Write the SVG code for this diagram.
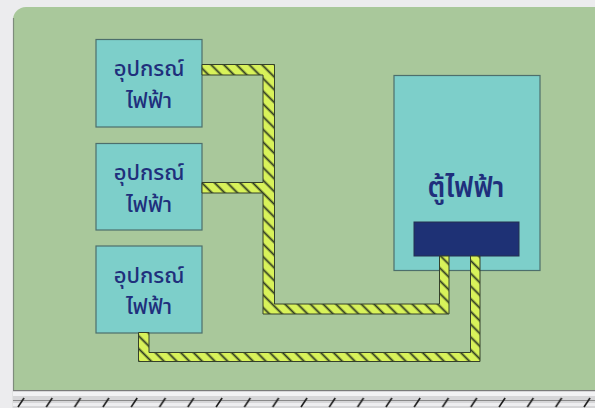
<svg xmlns="http://www.w3.org/2000/svg" width="595" height="408" viewBox="0 0 595 408">
  <style>
    .box { fill: #7dcfca; stroke: #4d6f6c; stroke-width: 1.2; }
    .lbl { font-family: "Noto Sans Thai", "Noto Sans", "DejaVu Sans", sans-serif; font-size: 22px; fill: #1f2f7c; text-anchor: middle; font-weight: 500; }
    .big { font-size: 27.5px; font-weight: 600; }
    .wire { fill: url(#hatch); stroke: #34402a; stroke-width: 1; stroke-linejoin: miter; }
  </style>
  <defs>
    <pattern id="hatch" patternUnits="userSpaceOnUse" width="9" height="9" patternTransform="rotate(-45)">
      <rect x="0" y="0" width="9" height="9" fill="#d8f25a"/>
      <line x1="4.5" y1="-1" x2="4.5" y2="10" stroke="#2e3a22" stroke-width="1.8"/>
    </pattern>
    <pattern id="ticks" patternUnits="userSpaceOnUse" x="17" y="390" width="28.3" height="18">
      <line x1="1" y1="17" x2="7" y2="8" stroke="#1a1a1a" stroke-width="1.6"/>
    </pattern>
  </defs>

  <rect x="0" y="0" width="595" height="408" fill="#ececee"/>

  <g id="panel">
    <rect x="13" y="7" width="600" height="400" rx="13" ry="13" fill="#a9c89b"/>
    <line x1="13.5" y1="18" x2="13.5" y2="408" stroke="#7e8c7c" stroke-width="1.2"/>
  </g>

  <g id="ground">
    <rect x="13" y="390" width="582" height="18" fill="#d6d6d8"/>
    <line x1="13" y1="390.5" x2="595" y2="390.5" stroke="#7a7a7a" stroke-width="1.2"/>
    <rect x="13" y="392" width="582" height="4" fill="#f2f2f4"/>
    <line x1="13" y1="400.5" x2="595" y2="400.5" stroke="#8a8a8a" stroke-width="1"/>
    <rect x="13" y="403" width="582" height="3" fill="#eeeef0"/>
    <rect x="13" y="390" width="582" height="18" fill="url(#ticks)"/>
  </g>

  <g id="device1">
    <rect class="box" x="96" y="39.5" width="106" height="87.5"/>
    <text class="lbl" x="149" y="76">อุปกรณ์</text>
    <text class="lbl" x="149" y="108">ไฟฟ้า</text>
  </g>

  <g id="device2">
    <rect class="box" x="96" y="143.5" width="106" height="86.5"/>
    <text class="lbl" x="149" y="180">อุปกรณ์</text>
    <text class="lbl" x="149" y="212">ไฟฟ้า</text>
  </g>

  <g id="device3">
    <rect class="box" x="96" y="246" width="106" height="87"/>
    <text class="lbl" x="149" y="283">อุปกรณ์</text>
    <text class="lbl" x="149" y="314">ไฟฟ้า</text>
  </g>

  <g id="cabinet">
    <rect class="box" x="394" y="75.5" width="146" height="195"/>
    <text class="lbl big" x="466" y="197">ตู้ไฟฟ้า</text>
    <rect x="414" y="222" width="105" height="34" fill="#1e3175" stroke="#243050" stroke-width="1"/>
  </g>

  <g id="connectors">
    <path class="wire" d="M202,64.5 H274.5 V304 H439.5 V256 H449 V314 H263 V193 H202 V182.5 H263 V75 H202 Z"/>
    <path class="wire" d="M138.5,332.5 H149 V352.5 H470.5 V256 H480 V361.5 H138.5 Z"/>
  </g>
</svg>
